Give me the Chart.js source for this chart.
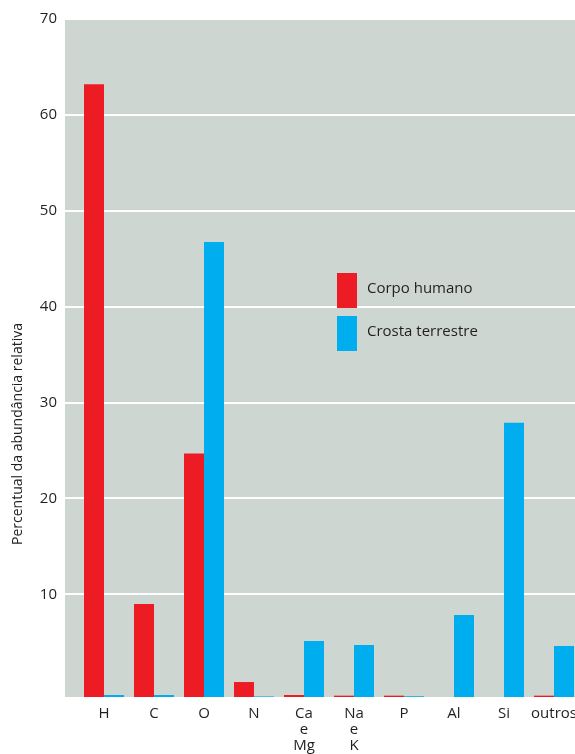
<!DOCTYPE html>
<html>
<head>
<meta charset="utf-8">
<script src="https://cdn.jsdelivr.net/npm/chart.js@4.4.1/dist/chart.umd.min.js"></script>
<style>
  html, body { margin: 0; padding: 0; background: #fff; overflow: hidden; }
  #wrap { width: 585px; height: 754px; }
</style>
</head>
<body>
<div id="wrap"><canvas id="chart" width="585" height="754"></canvas></div>
<script>
// categories (elementos)
const elementos = ['H', 'C', 'O', 'N', ['Ca', 'e', 'Mg'], ['Na', 'e', 'K'], 'P', 'Al', 'Si', 'outros'];

// series (bottom of the plot sits at -0.7)
const corpoHumano = [63.2, 9.0, 24.7, 0.86, -0.49, -0.56, -0.56, null, null, -0.56];
const crostaTerrestre = [-0.49, -0.49, 46.75, -0.64, 5.14, 4.72, -0.62, 7.85, 27.9, 4.62];

const yTicks = [10, 20, 30, 40, 50, 60, 70];
const yMin = -0.7;
const yMax = 70;

const fontFamily = '"Open Sans", "Noto Sans", sans-serif';
const textColor = '#231f20';
const red = '#ed1c24';
const blue = '#00aeef';
const panel = '#cdd6d1';

const panelPlugin = {
    id: 'panel',
    beforeDraw(chart) {
        const ctx = chart.ctx;
        const a = chart.chartArea;
        ctx.save();
        ctx.fillStyle = panel;
        ctx.fillRect(a.left - 14, a.top, a.right - a.left + 14, a.bottom - a.top);
        ctx.restore();
    }
};

const legendPlugin = {
    id: 'boxLegend',
    afterDatasetsDraw(chart) {
        const ctx = chart.ctx;
        const a = chart.chartArea;
        ctx.save();
        ctx.font = '15px ' + fontFamily;
        ctx.textBaseline = 'middle';
        chart.data.datasets.forEach(function (ds, i) {
            const x = a.left + 258;
            const y = a.top + 254 + i * 43;
            ctx.fillStyle = ds.backgroundColor;
            ctx.fillRect(x, y, 20, 35);
            ctx.fillStyle = textColor;
            ctx.fillText(ds.label, x + 30, y + 16);
        });
        ctx.restore();
    }
};

const yTitlePlugin = {
    id: 'yTitle',
    afterDraw(chart) {
        const ctx = chart.ctx;
        ctx.save();
        ctx.translate(18, 434);
        ctx.rotate(-Math.PI / 2);
        ctx.font = '14px ' + fontFamily;
        ctx.fillStyle = textColor;
        ctx.textAlign = 'center';
        ctx.textBaseline = 'middle';
        ctx.fillText('Percentual da abundância relativa', 0, 0);
        ctx.restore();
    }
};

new Chart(document.getElementById('chart'), {
    type: 'bar',
    data: {
        labels: elementos,
        datasets: [
            {
                label: 'Corpo humano',
                data: corpoHumano,
                backgroundColor: red,
                base: yMin,
                barPercentage: 1.0,
                categoryPercentage: 0.8
            },
            {
                label: 'Crosta terrestre',
                data: crostaTerrestre,
                backgroundColor: blue,
                base: yMin,
                barPercentage: 1.0,
                categoryPercentage: 0.8
            }
        ]
    },
    options: {
        responsive: false,
        animation: false,
        layout: { padding: { top: 19, right: 6, bottom: 0, left: 0 } },
        plugins: {
            legend: { display: false },
            tooltip: { enabled: false }
        },
        scales: {
            x: {
                grid: { display: false },
                border: { display: false },
                ticks: {
                    color: textColor,
                    font: { family: fontFamily, size: 15, lineHeight: '16px' },
                    padding: 1,
                    maxRotation: 0,
                    autoSkip: false
                },
                afterFit(scale) { scale.height = 57; }
            },
            y: {
                min: yMin,
                max: yMax,
                afterBuildTicks(scale) {
                    scale.ticks = yTicks.map(v => ({ value: v }));
                },
                afterFit(scale) { scale.width = 79; },
                grid: {
                    color: '#ffffff',
                    lineWidth: 2,
                    tickLength: 14,
                    drawTicks: true
                },
                border: { display: false },
                ticks: {
                    color: textColor,
                    font: { family: fontFamily, size: 15 },
                    padding: 8
                }
            }
        }
    },
    plugins: [panelPlugin, legendPlugin, yTitlePlugin]
});
</script>
</body>
</html>
